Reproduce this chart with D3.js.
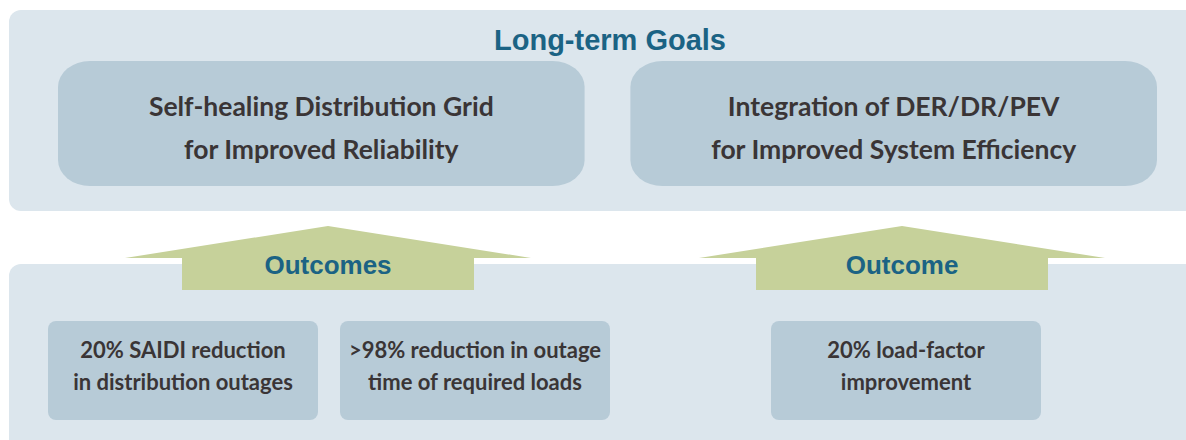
<!DOCTYPE html>
<html><head><meta charset="utf-8">
<script src="https://cdn.jsdelivr.net/npm/d3@7"></script>
<style>body{margin:0;background:#fff}svg{display:block}</style>
</head><body>
<script>
const title = "Long-term Goals";
const goals = [["Self-healing Distribution Grid","for Improved Reliability"],["Integration of DER/DR/PEV","for Improved System Efficiency"]];
const arrowLabels = ["Outcomes","Outcome"];
const outcomeItems = [["20% SAIDI reduction","in distribution outages"],[">98% reduction in outage","time of required loads"],["20% load-factor","improvement"]];

const W=1186,H=440;
const svg=d3.select("body").append("svg").attr("width",W).attr("height",H);
const panel="#dce6ed", box="#b7cbd7", arrowC="#c6d19a", blue="#1b6384", txt="#3a3536";

svg.append("rect").attr("x",9).attr("y",10).attr("width",1200).attr("height",201).attr("rx",12).attr("fill",panel);
svg.append("rect").attr("x",9).attr("y",264).attr("width",1200).attr("height",200).attr("rx",12).attr("fill",panel);

svg.append("text").attr("x",610).attr("y",50).attr("text-anchor","middle")
  .attr("font-family","Liberation Sans, Arial, sans-serif").attr("font-weight","bold").attr("font-size",29)
  .attr("fill",blue).text(title);

const gx=d3.scaleBand().domain(d3.range(goals.length)).range([58,1157]).paddingInner(0.08);
goals.forEach((g,i)=>{
  svg.append("rect").attr("x",gx(i)).attr("y",61).attr("width",gx.bandwidth()).attr("height",125)
    .attr("rx",32).attr("ry",26).attr("fill",box);
  g.forEach((l,j)=>svg.append("text").attr("x",gx(i)+gx.bandwidth()/2).attr("y",116+j*43)
    .attr("text-anchor","middle").attr("font-family","Lato, sans-serif").attr("font-weight","bold")
    .attr("font-size",26.5).attr("fill",txt).text(l));
});

const arrows=[{cx:328,half:203,rh:146},{cx:902,half:203,rh:146}];
arrows.forEach((a,i)=>{
  const p=d3.path();
  p.moveTo(a.cx-a.half,258);p.lineTo(a.cx,226);p.lineTo(a.cx+a.half,258);
  p.lineTo(a.cx+a.rh,258);p.lineTo(a.cx+a.rh,290);p.lineTo(a.cx-a.rh,290);p.lineTo(a.cx-a.rh,258);p.closePath();
  svg.append("path").attr("d",p.toString()).attr("fill",arrowC);
  svg.append("text").attr("x",a.cx).attr("y",274).attr("text-anchor","middle")
    .attr("font-family","Liberation Sans, Arial, sans-serif").attr("font-weight","bold").attr("font-size",26)
    .attr("fill",blue).text(arrowLabels[i]);
});

const ox=[48,340,771];
outcomeItems.forEach((o,i)=>{
  svg.append("rect").attr("x",ox[i]).attr("y",321).attr("width",270).attr("height",99)
    .attr("rx",8).attr("fill",box);
  o.forEach((l,j)=>svg.append("text").attr("x",ox[i]+135).attr("y",358+j*32)
    .attr("text-anchor","middle").attr("font-family","Lato, sans-serif").attr("font-weight","bold")
    .attr("font-size",22).attr("fill",txt).text(l));
});
</script>
</body></html>
